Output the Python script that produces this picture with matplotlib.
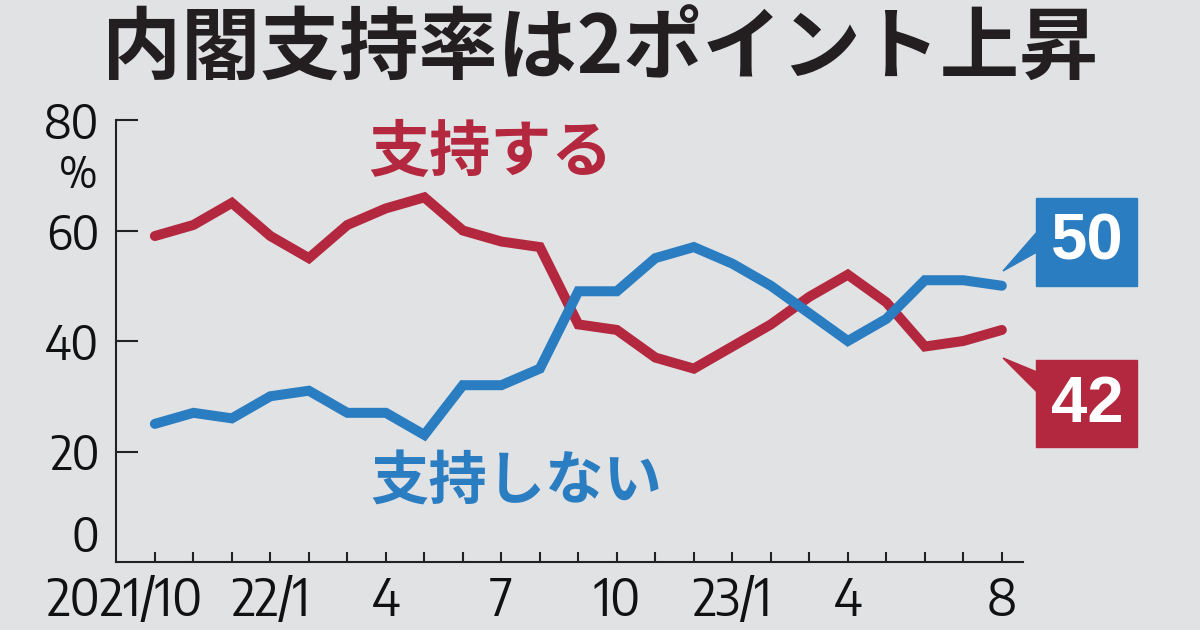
import numpy as np
from matplotlib import pyplot as plt
from matplotlib import font_manager
from matplotlib.font_manager import FontProperties
from matplotlib.textpath import TextPath
from matplotlib.patches import Rectangle, Polygon
from matplotlib.transforms import ScaledTranslation

#%% data (monthly, 2021/10 - 2023/8)
months = np.arange(23)
support = [59, 61, 65, 59, 55, 61, 64, 66, 60, 58, 57, 43,
           42, 37, 35, 39, 43, 48, 52, 47, 39, 40, 42]
nosupport = [25, 27, 26, 30, 31, 27, 27, 23, 32, 32, 35, 49,
             49, 55, 57, 54, 50, 45, 40, 44, 51, 51, 50]
xlabels = {0: '2021/10', 3: '22/1', 6: '4', 9: '7', 12: '10', 15: '23/1', 18: '4', 22: '8'}
yticks = [0, 20, 40, 60, 80]

title = '内閣支持率は2ポイント上昇'
lab_sup = '支持する'
lab_nosup = '支持しない'

red = '#B3283F'
blue = '#2B7DC1'
bg = '#E1E2E4'
ink = '#222222'
cjk = ['Noto Sans CJK JP', 'DejaVu Sans']

#%% pick a regular sans face whose proportions are closest to the condensed numerals
def wnum(w):
    if isinstance(w, int):
        return w
    return {'normal': 400, 'regular': 400, 'book': 400, 'medium': 500, 'light': 300}.get(w, 700)

def measure(prop, txt, size):
    ext = TextPath((0, 0), txt, size=size, prop=prop).get_extents()
    return ext.width, ext.height

target = 158 / 40.0   # width of "2021/10" over digit height in the reference
best, bestd = None, 1e9
for f in font_manager.fontManager.ttflist:
    nm = f.name.lower()
    if f.style != 'normal' or not (300 <= wnum(f.weight) <= 500):
        continue
    if not any(k in nm for k in ('sans', 'roboto', 'lato', 'inter')):
        continue
    if 'cjk' in nm or 'mono' in nm:
        continue
    try:
        pr = FontProperties(fname=f.fname)
        ok = all(measure(pr, c, 38)[1] > 15 for c in '0123456789/')
        w = measure(pr, '2021/10', 38)[0]
        h = measure(pr, '2021', 38)[1]
        measure(pr, '%', 34)
    except Exception:
        continue
    if ok and h > 15 and abs(w / h - target) < bestd:
        best, bestd = f, abs(w / h - target)
if best is not None:
    numprop = FontProperties(fname=best.fname)
else:
    numprop = FontProperties(family='Liberation Sans')

def size_for_height(txt, target_px, base=38):
    try:
        h = measure(numprop, txt, base)[1]
        return base * target_px / (h * 100 / 72)
    except Exception:
        return base * 0.9

xsize = size_for_height('2021', 39)
ysize = size_for_height('80', 36)

#%%
fig = plt.figure(figsize=(12, 6.3), dpi=100, facecolor=bg)
W, H = 1200, 630
ax = fig.add_axes([116/W, 1-562/H, (1023-116)/W, (562-120)/H])
ax.set_facecolor(bg)

ax.plot(months, support, color=red, lw=7.2, solid_capstyle='round', solid_joinstyle='miter', clip_on=False, zorder=3)
ax.plot(months, nosupport, color=blue, lw=7.2, solid_capstyle='round', solid_joinstyle='miter', clip_on=False, zorder=3)

ax.set_xlim(-1.01, 22.55)
ax.set_ylim(0, 80)

ax.set_xticks(months)
ax.set_xticklabels([xlabels.get(m, '') for m in months])
ax.set_yticks(yticks)
ax.set_yticklabels([str(v) for v in yticks])
ax.tick_params(axis='x', direction='in', length=7, width=1.5, color=ink, pad=9, labelcolor='#111111')
ax.tick_params(axis='y', direction='in', length=16, width=1.5, color=ink, pad=12, labelcolor='#111111')
for lab in ax.get_xticklabels():
    lab.set_fontproperties(numprop)
    lab.set_fontsize(xsize)
for lab in ax.get_yticklabels():
    lab.set_fontproperties(numprop)
    lab.set_fontsize(ysize)
ax.get_yticklabels()[0].set_va('bottom')
ax.yaxis.get_major_ticks()[0].tick1line.set_visible(False)
# first date label sits left of its tick
lab0 = ax.get_xticklabels()[0]
lab0.set_transform(lab0.get_transform() + ScaledTranslation(-0.31, 0, fig.dpi_scale_trans))

for s in ['top', 'right']:
    ax.spines[s].set_visible(False)
for s in ['left', 'bottom']:
    ax.spines[s].set_linewidth(1.5)
    ax.spines[s].set_color(ink)

ax.text((78-116)/907, (562-176)/442, '%', transform=ax.transAxes, fontproperties=numprop, fontsize=ysize*0.92,
        ha='center', va='center', color='#111111')

# title and series labels
fig.text(0.5, 1-50/H, title, family=cjk, weight='bold', fontsize=57, ha='center', va='center', color='#231F20')
fig.text(491/W, 1-153/H, lab_sup, family=cjk, weight='bold', fontsize=44, ha='center', va='center', color=red)
fig.text(516/W, 1-483/H, lab_nosup, family=cjk, weight='bold', fontsize=42, ha='center', va='center', color=blue)

# end value boxes
def px(x, y):
    return (x/W, 1-y/H)

fig.patches.append(Rectangle(px(1036, 286), 101/W, 88/H, transform=fig.transFigure, color=blue, zorder=5))
fig.patches.append(Polygon([px(1037, 232), px(1003, 271), px(1037, 252)], transform=fig.transFigure, color=blue, zorder=5))
fig.text(1087/W, 1-243/H, str(nosupport[-1]), family=['Liberation Sans', 'DejaVu Sans'], weight='bold',
         fontsize=47, ha='center', va='center', color='white', zorder=6)

fig.patches.append(Rectangle(px(1036, 447), 101/W, 87/H, transform=fig.transFigure, color=red, zorder=5))
fig.patches.append(Polygon([px(1037, 372), px(1003, 358), px(1037, 392)], transform=fig.transFigure, color=red, zorder=5))
fig.text(1087/W, 1-405/H, str(support[-1]), family=['Liberation Sans', 'DejaVu Sans'], weight='bold',
         fontsize=47, ha='center', va='center', color='white', zorder=6)

fig.savefig('out.png', dpi=100, facecolor=bg)
